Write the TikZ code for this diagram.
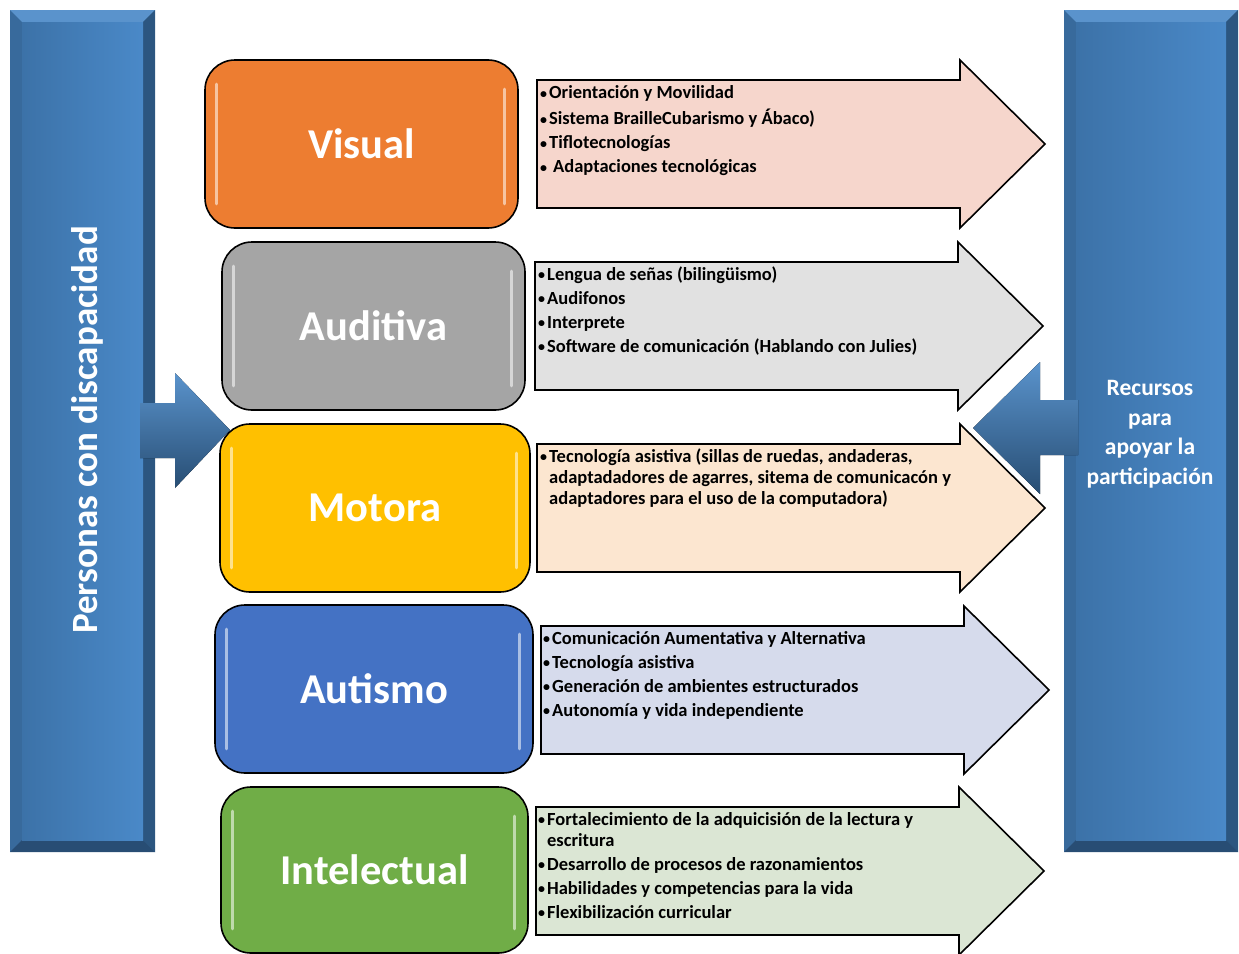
\documentclass[tikz,border=0pt]{standalone}
\usepackage{fontspec}
\setmainfont{Carlito}
\usepackage{xcolor}
\usetikzlibrary{positioning, calc}

\definecolor{VisualOrange}{HTML}{ED7D31}
\definecolor{AuditivaGray}{HTML}{A5A5A5}
\definecolor{MotoraGold}{HTML}{FFC000}
\definecolor{AutismoBlue}{HTML}{4472C4}
\definecolor{IntelGreen}{HTML}{70AD47}
\definecolor{ArrPink}{HTML}{F6D6CC}
\definecolor{ArrGray}{HTML}{E1E1E1}
\definecolor{ArrPeach}{HTML}{FCE6D0}
\definecolor{ArrLavender}{HTML}{D6DBEC}
\definecolor{ArrGreen}{HTML}{DBE6D4}
\definecolor{BarInL}{HTML}{3C72A8}
\definecolor{BarInR}{HTML}{4A89C8}
\definecolor{BarTop}{HTML}{5A93CC}
\definecolor{BarLeft}{HTML}{386A9C}
\definecolor{BarRight}{HTML}{2C5680}
\definecolor{BarBottom}{HTML}{284D74}

% small bullet with a little gap
\newcommand{\bul}{{\fontsize{14}{0}\selectfont\raisebox{0.5pt}{•}}\hspace{2pt}}

\begin{document}
\begin{tikzpicture}[x=1pt, y=-1pt,
		CatBox/.style={rectangle, rounded corners=30pt, draw=black, line width=1.6pt, inner sep=0pt,
			minimum height=168pt, text=white, font=\fontsize{42.5}{50}\selectfont\bfseries},
		ResText/.style={anchor=north west, inner sep=0pt, align=left, font=\fontsize{18.5}{21}\selectfont\bfseries},
		ResArrow/.style={draw=black, line width=1.6pt, line join=miter},
		BlueArrow/.style={top color=BarTop, bottom color=BarRight!90!black},
		Shine/.style={white, opacity=0.55, line width=3pt, line cap=round}]

	\useasboundingbox (0,0) rectangle (1239,953);

	% Side bars
	\foreach \xa/\xb in {10/155, 1064/1238} {
		\fill[BarLeft] (\xa,10) rectangle (\xb,852);
		\fill[BarTop] (\xa,10) -- (\xb,10) -- (\xb-12,22) -- (\xa+12,22) -- cycle;
		\fill[BarRight] (\xb,10) -- (\xb,852) -- (\xb-12,840) -- (\xb-12,22) -- cycle;
		\fill[BarBottom] (\xa,852) -- (\xb,852) -- (\xb-12,840) -- (\xa+12,840) -- cycle;
		\shade[left color=BarInL, right color=BarInR] (\xa+12,22) rectangle (\xb-12,840);
	}

	\node[rotate=90, text=white, font=\fontsize{37}{44}\selectfont\bfseries] (PersonasLbl) at (87,430) {Personas con discapacidad};
	\node[align=center, text=white, font=\fontsize{23.5}{29.5}\selectfont\bfseries] (RecursosLbl) at (1150,434)
		{Recursos\\para\\apoyar la\\participación};

	% Blue arrows
	\fill[BlueArrow] (140,403) -- (175,403) -- (175,373) -- (230,430) -- (175,488) -- (175,458) -- (140,458) -- cycle;
	\fill[BlueArrow] (1078,400) -- (1040,400) -- (1040,362) -- (973,428) -- (1040,494) -- (1040,455) -- (1078,455) -- cycle;

	% Resource arrows
	\foreach \L/\T/\col in {537/60/ArrPink, 535/242/ArrGray, 537/424/ArrPeach, 541/606/ArrLavender, 536/787/ArrGreen} {
		\draw[ResArrow, fill=\col] (\L,\T+20) -- ++(423,0) -- ++(0,-20) -- ++(85,84) -- ++(-85,84) -- ++(0,-20) -- ++(-423,0) -- cycle;
	}

	% Nodes
	\node[CatBox, fill=VisualOrange, minimum width=313pt] (BoxVisual) at (361.5,144) {Visual};
	\node[CatBox, fill=AuditivaGray, minimum width=303pt] (BoxAuditiva) at (373.5,326) {Auditiva};
	\node[CatBox, fill=MotoraGold, minimum width=310pt] (BoxMotora) at (375,508) {Motora};
	\node[CatBox, fill=AutismoBlue, minimum width=318pt] (BoxAutismo) at (374,689) {Autismo};
	\node[CatBox, fill=IntelGreen, minimum width=307pt, minimum height=166pt] (BoxIntel) at (374.5,870) {Intelectual};

	\foreach \b in {BoxVisual, BoxAuditiva, BoxMotora, BoxAutismo, BoxIntel} {
		\draw[Shine] ($(\b.north west)+(12,25)$) -- ($(\b.south west)+(12,-25)$);
		\draw[Shine] ($(\b.north east)+(-14,30)$) -- ($(\b.south east)+(-14,-25)$);
	}

	\node[ResText] (TxtVisual) at (540,84) {\strut\bul Orientación y Movilidad\\[3pt]
		\bul Sistema BrailleCubarismo y Ábaco)\\[3pt]
		\bul Tiflotecnologías\\[3pt]
		\bul\hspace{4pt}Adaptaciones tecnológicas};
	\node[ResText] (TxtAuditiva) at (538,265.5) {\strut\bul Lengua de señas (bilingüismo)\\[3pt]
		\bul Audifonos\\[3pt]
		\bul Interprete\\[3pt]
		\bul Software de comunicación (Hablando con Julies)};
	\node[ResText] (TxtMotora) at (540,447.5) {\strut\bul Tecnología asistiva (sillas de ruedas, andaderas,\\
		\hphantom{\bul}adaptadadores de agarres, sitema de comunicacón y\\
		\hphantom{\bul}adaptadores para el uso de la computadora)};
	\node[ResText] (TxtAutismo) at (543,629.5) {\strut\bul Comunicación Aumentativa y Alternativa\\[3pt]
		\bul Tecnología asistiva\\[3pt]
		\bul Generación de ambientes estructurados\\[3pt]
		\bul Autonomía y vida independiente};
	\node[ResText] (TxtIntel) at (538,810.5) {\strut\bul Fortalecimiento de la adquicisión de la lectura y\\
		\hphantom{\bul}escritura\\[3pt]
		\bul Desarrollo de procesos de razonamientos\\[3pt]
		\bul Habilidades y competencias para la vida\\[3pt]
		\bul Flexibilización curricular};
\end{tikzpicture}
\end{document}
